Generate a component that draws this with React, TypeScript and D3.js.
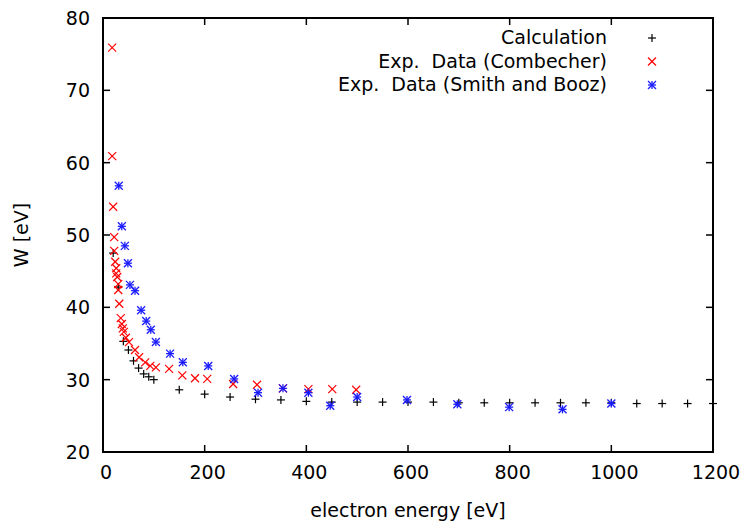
import React from "react";
import * as d3 from "d3";

const calcX = [20, 30, 40, 50, 60, 70, 80, 90, 100, 150, 200, 250, 300, 350, 400, 450, 500, 550, 600, 650, 700, 750, 800, 850, 900, 950, 1000, 1050, 1100, 1150, 1200];
const calcY = [47.5, 42.8, 35.3, 34.1, 32.6, 31.6, 30.8, 30.4, 30.0, 28.6, 28.0, 27.6, 27.3, 27.2, 27.0, 26.9, 26.9, 26.9, 26.9, 26.9, 26.8, 26.8, 26.8, 26.8, 26.8, 26.8, 26.8, 26.7, 26.7, 26.7, 26.7];

const combX = [18, 18, 20, 22, 22, 24, 26, 26, 28, 30, 30, 32, 35, 37, 39, 41, 45, 51, 63, 71, 83, 93, 104, 130, 156, 181, 205, 256, 303, 354, 404, 451, 498];
const combY = [75.9, 60.9, 53.9, 49.7, 47.8, 46.3, 45.4, 44.7, 44.2, 43.2, 42.4, 40.5, 38.5, 37.7, 37.1, 36.6, 35.8, 35.2, 34.1, 33.1, 32.4, 31.9, 31.7, 31.5, 30.6, 30.2, 30.1, 29.4, 29.3, 28.8, 28.7, 28.7, 28.6];

const smithX = [31, 37, 43, 49, 53, 63, 75, 85, 94, 104, 132, 157, 207, 258, 305, 354, 404, 447, 500, 598, 697, 799, 904, 1000];
const smithY = [56.8, 51.2, 48.5, 46.1, 43.1, 42.3, 39.6, 38.1, 36.9, 35.2, 33.6, 32.4, 31.9, 30.1, 28.2, 28.8, 28.2, 26.4, 27.6, 27.2, 26.6, 26.2, 25.9, 26.7];

const xTicks = [0, 200, 400, 600, 800, 1000, 1200];
const yTicks = [20, 30, 40, 50, 60, 70, 80];
const legendLabels = ["Calculation", "Exp.  Data (Combecher)", "Exp.  Data (Smith and Booz)"];

const W = 740, H = 522;
const L = 103, R = 713, T = 18, B = 452;
const FONT = "DejaVu Sans";
const FS = 19;

const x = d3.scaleLinear().domain([0, 1200]).range([L, R]);
const y = d3.scaleLinear().domain([20, 80]).range([B, T]);

function Plus({ cx, cy }: { cx: number; cy: number }) {
  const s = 4;
  return (
    <g stroke="#000" strokeWidth={1.2}>
      <line x1={cx - s} y1={cy} x2={cx + s} y2={cy} />
      <line x1={cx} y1={cy - s} x2={cx} y2={cy + s} />
    </g>
  );
}
function Cross({ cx, cy }: { cx: number; cy: number }) {
  const s = 4;
  return (
    <g stroke="#ff0000" strokeWidth={1.2}>
      <line x1={cx - s} y1={cy - s} x2={cx + s} y2={cy + s} />
      <line x1={cx - s} y1={cy + s} x2={cx + s} y2={cy - s} />
    </g>
  );
}
function Star({ cx, cy }: { cx: number; cy: number }) {
  const s = 4;
  return (
    <g stroke="#1a1aff" strokeWidth={1.3}>
      <line x1={cx - s} y1={cy} x2={cx + s} y2={cy} />
      <line x1={cx} y1={cy - s} x2={cx} y2={cy + s} />
      <line x1={cx - s} y1={cy - s} x2={cx + s} y2={cy + s} />
      <line x1={cx - s} y1={cy + s} x2={cx + s} y2={cy - s} />
    </g>
  );
}

export default function App() {
  const tl = 7;
  return (
    <svg width={W} height={H} style={{ position: "absolute", left: 0, top: 0, background: "#fff" }} fontFamily={FONT} fontSize={FS}>
      <rect x={0} y={0} width={W} height={H} fill="#fff" />
      {/* ticks */}
      <g stroke="#000" strokeWidth={1.5}>
        {xTicks.map((t) => (
          <g key={"xt" + t}>
            <line x1={x(t)} y1={B} x2={x(t)} y2={B - tl} />
            <line x1={x(t)} y1={T} x2={x(t)} y2={T + tl} />
          </g>
        ))}
        {yTicks.map((t) => (
          <g key={"yt" + t}>
            <line x1={L} y1={y(t)} x2={L + tl} y2={y(t)} />
            <line x1={R} y1={y(t)} x2={R - tl} y2={y(t)} />
          </g>
        ))}
      </g>
      {xTicks.map((t) => (
        <text key={"xl" + t} x={x(t) + 3} y={B + 27} textAnchor="middle" fill="#000">{t}</text>
      ))}
      {yTicks.map((t) => (
        <text key={"yl" + t} x={L - 13} y={y(t) + 7} textAnchor="end" fill="#000">{t}</text>
      ))}
      <text x={(L + R) / 2} y={517} textAnchor="middle" fill="#000">electron energy [eV]</text>
      <text transform={`translate(28,${(T + B) / 2}) rotate(-90)`} textAnchor="middle" fill="#000">W [eV]</text>

      {/* data */}
      {calcX.map((v, i) => <Plus key={"c" + i} cx={x(v)} cy={y(calcY[i])} />)}
      {combX.map((v, i) => <Cross key={"r" + i} cx={x(v)} cy={y(combY[i])} />)}
      {smithX.map((v, i) => <Star key={"s" + i} cx={x(v)} cy={y(smithY[i])} />)}

      {/* legend */}
      {legendLabels.map((lab, i) => (
        <text key={"lg" + i} x={607} y={44 + i * 23.5} textAnchor="end" fill="#000" style={{ whiteSpace: "pre" }}>{lab}</text>
      ))}
      <Plus cx={652} cy={38} />
      <Cross cx={652} cy={61.5} />
      <Star cx={652} cy={85} />

      {/* frame */}
      <rect x={L} y={T} width={R - L} height={B - T} fill="none" stroke="#000" strokeWidth={2} />
    </svg>
  );
}
